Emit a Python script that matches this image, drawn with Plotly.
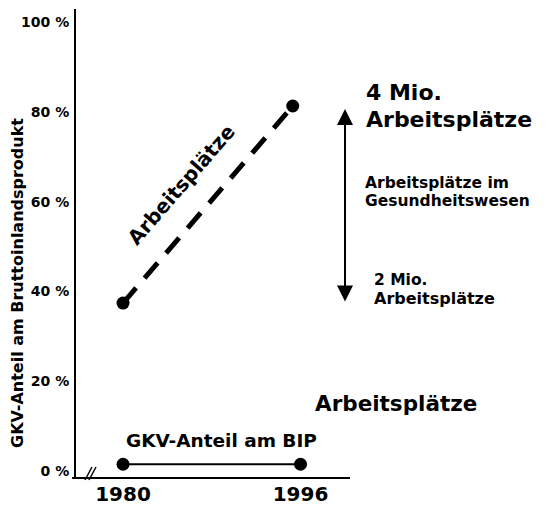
import plotly.graph_objects as go

# ---- data ----
years = [1980, 1996]
jobs_x = [1980, 1995.3]
jobs_share = [37.4, 81.3]          # "Arbeitsplätze" dashed series, % scale
gkv_x = [1980, 1996]
gkv_share = [1.5, 1.5]             # "GKV-Anteil am BIP"
y_ticks = [0, 20, 40, 60, 80, 100]
x_tick_labels = ["1980", "1996"]

FONT = "DejaVu Sans"
W, H = 550, 508
L, R, T, B = 76, 350, 9, 478   # plot area pixels


def px(x):
    return (x - L) / (R - L)


def py(y):
    return (B - y) / (B - T)


fig = go.Figure()
fig.add_trace(go.Scatter(
    x=jobs_x, y=jobs_share, mode="lines",
    line=dict(color="black", width=5, dash="20px,13px"),
    hoverinfo="skip", showlegend=False))
fig.add_trace(go.Scatter(
    x=jobs_x, y=jobs_share, mode="markers",
    marker=dict(color="black", size=13),
    hoverinfo="skip", showlegend=False))
fig.add_trace(go.Scatter(
    x=gkv_x, y=gkv_share, mode="lines+markers",
    line=dict(color="black", width=2),
    marker=dict(color="black", size=13),
    hoverinfo="skip", showlegend=False))

fig.update_layout(
    template="none",
    width=W, height=H,
    margin=dict(l=L, r=W - R, t=T, b=H - B, autoexpand=False),
    paper_bgcolor="white", plot_bgcolor="white",
    font=dict(family=FONT, color="black"),
    xaxis=dict(range=[1975.76, 2000.46], tickvals=years, ticktext=x_tick_labels,
               showgrid=False, zeroline=False, showline=False, ticks="",
               automargin=False,
               tickfont=dict(size=20, family=FONT, weight="bold"),
               ticklabelstandoff=2),
    yaxis=dict(range=[-1.56, 102.9], tickvals=y_ticks,
               ticktext=[f"{v} %" for v in y_ticks],
               showgrid=False, zeroline=False, showline=True,
               linecolor="black", linewidth=2, ticks="",
               automargin=False,
               tickfont=dict(size=14, family=FONT, weight="bold"),
               ticklabelstandoff=2),
)

# x-axis line extending slightly left of the y axis, plus break mark
fig.add_shape(type="line", xref="paper", yref="paper",
              x0=px(72), x1=1, y0=0, y1=0, line=dict(color="black", width=2))
for off in (0, 4):
    fig.add_shape(type="line", xref="paper", yref="paper",
                  x0=px(85 + off), y0=py(480), x1=px(92 + off), y1=py(467),
                  line=dict(color="black", width=1.5))


def txt(x, y, s, size, xanchor="left", angle=0):
    fig.add_annotation(xref="paper", yref="paper", x=px(x), y=py(y), text=s,
                       showarrow=False, xanchor=xanchor, yanchor="middle",
                       textangle=angle,
                       font=dict(size=size, family=FONT, color="black", weight="bold"))


txt(17, 283, "GKV-Anteil am Bruttoinlandsprodukt", 16, "center", -90)
txt(181, 185, "Arbeitsplätze", 20, "center", -49)
txt(221, 440, "GKV-Anteil am BIP", 18.5, "center")
txt(396, 403, "Arbeitsplätze", 21.5, "center")
txt(364, 93, "4 Mio.", 22)
txt(364, 119, "Arbeitsplätze", 22)
txt(363, 183, "Arbeitsplätze im", 15.5)
txt(363, 201, "Gesundheitswesen", 15.5)
txt(372, 280, "2 Mio.", 15.5)
txt(372, 298, "Arbeitsplätze", 16)

# double-headed arrow
fig.add_annotation(xref="paper", yref="paper", x=px(345), y=py(109),
                   ax=0, ay=194, text="", showarrow=True,
                   arrowhead=2, arrowside="end+start", arrowsize=1.6,
                   arrowwidth=2, arrowcolor="black", standoff=0, startstandoff=0)

fig.write_html("out.html",
               config={"displayModeBar": False},
               post_script="document.body.style.margin='0';"
                           "document.body.style.overflow='hidden';")
